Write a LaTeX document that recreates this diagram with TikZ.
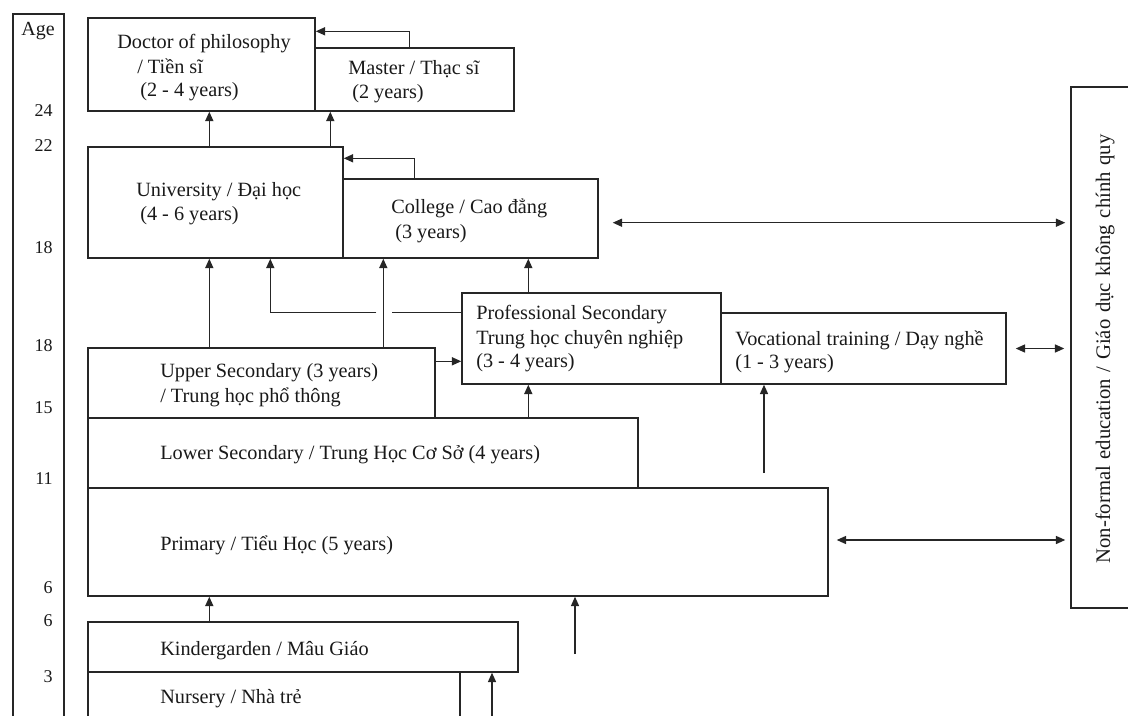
\documentclass[tikz,border=0pt]{standalone}
\usepackage{fontspec}
\setmainfont{Liberation Serif}
\usetikzlibrary{arrows.meta,calc,fit}
\newcommand{\wsp}{\hspace{5pt}}
\begin{document}
\begin{tikzpicture}[x=0.75pt,y=-0.75pt,
  box/.style={draw=black!85, line width=1.05pt, inner sep=0pt},
  lbl/.style={anchor=base west, inner sep=0pt, text=black!90, font=\fontsize{15.2}{18}\selectfont},
  agelbl/.style={anchor=east, inner sep=0pt, text=black!90, font=\fontsize{13.5}{15}\selectfont},
  arr/.style={draw=black!85, line width=1.05pt, -{Triangle[length=7pt,width=6pt]}},
  dblarr/.style={draw=black!85, line width=1.05pt, {Triangle[length=7pt,width=6pt]}-{Triangle[length=7pt,width=6pt]}},
  ln/.style={draw=black!85, line width=1.05pt}]
\useasboundingbox (0,0) rectangle (1128,715);
\clip (0,0) rectangle (1128,715);
% boxes
\node[box, fit={(13,14)(64,760)}] (agecol) {};
\node[box, fit={(88,18)(315,111)}] (phd) {};
\node[box, fit={(315,48)(514,111)}] (master) {};
\node[box, fit={(88,147)(343,258)}] (univ) {};
\node[box, fit={(343,179)(598,258)}] (college) {};
\node[box, fit={(462,293)(721,384)}] (prof) {};
\node[box, fit={(721,313)(1006,384)}] (voc) {};
\node[box, fit={(88,348)(435,418)}] (upper) {};
\node[box, fit={(88,418)(638,488)}] (lower) {};
\node[box, fit={(88,488)(828,596)}] (primary) {};
\node[box, fit={(88,622)(518,672)}] (kinder) {};
\node[box, fit={(88,672)(460,760)}] (nursery) {};
\node[box, fit={(1071,87)(1160,608)}] (nonformal) {};
% age labels
\node[inner sep=0pt, text=black!90, font=\fontsize{15}{17}\selectfont] (agehead) at (38,31) {Age};
\node[agelbl] (a24) at (53,111) {24};
\node[agelbl] (a22) at (53,146) {22};
\node[agelbl] (a18a) at (53,248) {18};
\node[agelbl] (a18b) at (53,346) {18};
\node[agelbl] (a15) at (53,408) {15};
\node[agelbl] (a11) at (53,479) {11};
\node[agelbl] (a6a) at (53,588) {6};
\node[agelbl] (a6b) at (53,621) {6};
\node[agelbl] (a3) at (53,677) {3};
% texts
\node[lbl] (t1) at (117,48) {Doctor of philosophy};
\node[lbl] (t2) at (137,73) {/ Tiền sĩ};
\node[lbl] (t3) at (140,96) {(2 - 4 years)};
\node[lbl] (t4) at (348,74) {Master / Thạc sĩ};
\node[lbl] (t5) at (352,98) {(2 years)};
\node[lbl] (t6) at (136,196) {University / Đại học};
\node[lbl] (t7) at (140,220) {(4 - 6 years)};
\node[lbl] (t8) at (391,213) {College / Cao đẳng};
\node[lbl] (t9) at (395,238) {(3 years)};
\node[lbl] (t10) at (476,319) {Professional Secondary};
\node[lbl] (t11) at (476,344) {Trung học chuyên nghiệp};
\node[lbl] (t12) at (476,367) {(3 - 4 years)};
\node[lbl] (t13) at (735,345) {Vocational training / Dạy nghề};
\node[lbl] (t14) at (735,368) {(1 - 3 years)};
\node[lbl] (t15) at (160,377) {Upper Secondary (3 years)};
\node[lbl] (t16) at (160,402) {/ Trung học phổ thông};
\node[lbl] (t17) at (160,459) {Lower Secondary / Trung Học Cơ Sở (4 years)};
\node[lbl] (t18) at (160,550) {Primary / Tiểu Học (5 years)};
\node[lbl] (t19) at (160,655) {Kindergarden / Mâu Giáo};
\node[lbl] (t20) at (160,703) {Nursery / Nhà trẻ};
\node[inner sep=0pt, rotate=90, text=black!90, font=\fontsize{15.5}{18}\selectfont] (nftext) at (1105,349) {Non-formal\wsp education\wsp /\wsp Giáo\wsp dục\wsp không\wsp chính\wsp quy};
% connectors
\draw[arr] ($(master.north west)+(95,0)$) |- ($(phd.north east)+(0,14)$);
\draw[arr] ($(univ.north west)+(122,0)$) -- ($(phd.south west)+(122,0)$);
\draw[arr] ($(univ.north west)+(243,0)$) -- ($(master.south west)+(16,0)$);
\draw[arr] ($(college.north west)+(72,0)$) |- ($(univ.north east)+(0,12)$);
\draw[dblarr] ($(college.south east)+(14,-36)$) -- ($(nonformal.west |- college.south east)+(-5,-36)$);
\draw[arr] ($(upper.north west)+(122,0)$) -- ($(univ.south west)+(122,0)$);
\draw[arr] ($(upper.north west)+(296,0)$) -- ($(college.south west)+(41,0)$);
\draw[ln] ($(prof.north west)+(0,20)$) -- ($(prof.north west)+(-69,20)$);
\draw[arr] ($(prof.north west)+(-85,20)$) -| ($(univ.south west)+(183,0)$);
\draw[arr] ($(prof.north west)+(67,0)$) -- ($(college.south west)+(186,0)$);
\draw[arr] ($(upper.north east)+(0,14)$) -- ($(prof.north west)+(0,69)$);
\draw[dblarr] ($(voc.east)+(9,0)$) -- ($(nonformal.west |- voc.east)+(-6,0)$);
\draw[arr] ($(lower.north west)+(441,0)$) -- ($(prof.south west)+(67,0)$);
\coordinate (vocin) at (764,473);
\draw[arr] (vocin) -- (vocin |- voc.south);
\draw[dblarr] ($(primary.east)+(8,-2)$) -- ($(nonformal.west |- primary.east)+(-5,-2)$);
\draw[arr] ($(kinder.north west)+(122,0)$) -- ($(primary.south west)+(122,0)$);
\coordinate (primin) at (575,654);
\draw[arr] (primin) -- (primin |- primary.south);
\coordinate (kinin) at (492,720);
\draw[arr] (kinin) -- (kinin |- kinder.south);
\end{tikzpicture}
\end{document}
